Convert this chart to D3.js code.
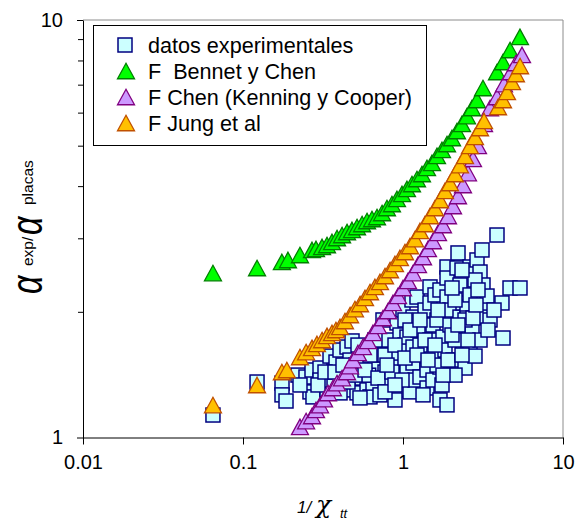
<!DOCTYPE html>
<html>
<head>
<meta charset="utf-8">
<script src="https://cdn.jsdelivr.net/npm/d3@7"></script>
<style>
  body { margin: 0; background: #fff; }
  svg text { font-family: "Liberation Sans", Arial, sans-serif; }
</style>
</head>
<body>
<svg id="chart" width="577" height="521"></svg>
<script>
// ---- data ----
const seriesNames = ["datos experimentales", "F  Bennet y Chen", "F Chen (Kenning y Cooper)", "F Jung et al"];
const xTickValues = [0.01, 0.1, 1, 10];
const xTickLabels = ["0.01", "0.1", "1", "10"];
const yTickValues = [1, 10];
const yTickLabels = ["1", "10"];
const yMinorValues = [2, 3, 4, 5, 6, 7, 8, 9];

// measured heat transfer ratio
const expX = [0.0649, 0.1224, 0.1753, 0.1753, 0.1857, 0.2207, 0.2475, 0.2622, 0.2738, 0.2699,
  0.3029, 0.335, 0.3398, 0.3652, 0.3498, 0.3813, 0.4039, 0.4467, 0.4339, 0.4664,
  0.4801, 0.5084, 0.5233, 0.4664, 0.5158, 0.5542, 0.5623, 0.5957, 0.6219, 0.6494,
  0.6683, 0.6980, 0.7183, 0.7499, 0.7720, 0.8058, 0.8293, 0.8660, 0.9173, 0.9173,
  0.9306, 0.9578, 1.000, 1.029, 1.059, 1.059, 1.106, 1.138, 1.155, 1.155,
  1.155, 1.189, 1.223, 1.241, 1.277, 1.314, 1.373, 1.413, 1.413, 1.475,
  1.475, 1.475, 1.540, 1.518, 1.540, 1.585, 1.631, 1.703, 1.703, 1.703,
  1.753, 1.778, 1.830, 1.884, 1.884, 1.884, 1.884, 1.967, 1.967, 2.054,
  2.175, 2.207, 2.271, 2.271, 2.271, 2.371, 2.371, 2.441, 2.512, 2.512,
  2.623, 2.623, 2.623, 2.700, 2.901, 3.029, 3.117, 3.029, 3.162, 3.255,
  3.162, 3.868, 4.155, 4.217, 4.665, 5.385, 3.350, 2.818, 2.114, 1.631,
  1.334, 0.891, 0.718, 0.404, 0.303, 2.114, 2.441, 3.498, 2.818, 1.277,
  1.029, 0.772, 0.610, 0.2271, 0.2943, 0.3255, 0.3758, 0.4217, 0.4531, 0.5012,
  0.5788, 0.6219, 0.6980, 0.7720, 0.8538, 0.8913, 0.9857, 1.029, 1.106, 1.223,
  1.277, 1.373, 1.433, 1.585, 1.655, 1.778, 1.911, 2.024, 2.114, 2.207,
  2.338, 2.548, 2.738, 2.859, 2.943, 2.338, 2.024, 3.398, 3.705, 0.8913,
  0.7943, 0.6683, 0.5385];
const expY = [1.132, 1.358, 1.350, 1.265, 1.223, 1.411, 1.396, 1.286, 1.251, 1.451,
  1.467, 1.300, 1.388, 1.350, 1.567, 1.516, 1.620, 1.647, 1.396, 1.533,
  1.703, 1.491, 1.665, 1.300, 1.279, 1.388, 1.533, 1.300, 1.251, 1.350,
  1.491, 1.620, 1.576, 1.912, 1.435, 1.712, 1.373, 1.516, 1.593, 1.881,
  1.300, 1.760, 2.020, 1.665, 1.475, 1.740, 1.286, 2.135, 1.943, 1.647,
  1.508, 1.373, 2.170, 1.809, 1.396, 1.602, 2.020, 1.451, 1.314, 2.294,
  2.100, 1.712, 1.860, 1.576, 1.373, 2.195, 1.912, 2.256, 1.475, 1.230,
  1.336, 1.740, 1.620, 2.561, 2.410, 2.170, 1.197, 2.020, 1.860, 1.533,
  2.547, 2.767, 1.943, 1.779, 2.319, 2.100, 1.647, 1.467, 2.054, 1.933,
  1.602, 2.561, 2.195, 1.809, 2.662, 2.491, 2.813, 1.712, 2.054, 1.943,
  2.319, 3.055, 2.100, 1.731, 2.281, 2.281, 2.182, 2.384, 1.712, 1.491,
  1.265, 1.230, 1.265, 1.279, 1.373, 1.411, 1.912, 1.912, 1.567, 1.665,
  1.912, 1.576, 1.410, 1.336, 1.336, 1.435, 1.435, 1.491, 1.358, 1.411,
  1.451, 1.576, 1.388, 1.286, 1.435, 1.665, 1.373, 1.550, 1.809, 1.576,
  1.912, 1.712, 1.533, 1.665, 2.020, 1.411, 1.533, 1.760, 2.135, 1.860,
  1.576, 1.712, 1.933, 2.077, 2.256, 2.519, 2.281, 1.809, 2.020, 1.336,
  1.491, 1.712, 1.244];

// Bennet y Chen correlation
const bennetX = [0.0649, 0.1224, 0.175, 0.191, 0.227, 0.270, 0.286, 0.312, 0.335, 0.360,
  0.387, 0.416, 0.447, 0.480, 0.516, 0.555, 0.596, 0.640, 0.688, 0.740,
  0.794, 0.853, 0.917, 0.986, 1.059, 1.138, 1.223, 1.314, 1.413, 1.518,
  1.631, 1.753, 1.884, 2.025, 2.175, 2.337, 2.512, 2.698, 2.900, 3.162,
  3.869, 4.217, 4.667, 5.383];
const bennetY = [2.477, 2.547, 2.633, 2.662, 2.736, 2.813, 2.829, 2.860, 2.891, 2.940,
  3.005, 3.055, 3.106, 3.141, 3.193, 3.246, 3.300, 3.337, 3.374, 3.449,
  3.546, 3.625, 3.727, 3.831, 3.938, 4.048, 4.161, 4.277, 4.422, 4.546,
  4.725, 4.883, 5.047, 5.217, 5.422, 5.636, 5.888, 6.155, 6.433, 6.873,
  7.506, 7.933, 8.475, 9.11];

// Chen with Kenning y Cooper
const chenX = [0.227, 0.248, 0.270, 0.286, 0.303, 0.321, 0.340, 0.365, 0.387, 0.416,
  0.447, 0.467, 0.487, 0.523, 0.562, 0.604, 0.649, 0.698, 0.750, 0.806,
  0.866, 0.931, 1.000, 1.075, 1.155, 1.241, 1.334, 1.433, 1.540, 1.655,
  1.778, 1.911, 2.054, 2.207, 2.371, 2.548, 2.738, 2.942, 3.209, 3.499,
  3.869, 4.276, 4.732, 5.080, 5.543];
const chenY = [1.060, 1.095, 1.126, 1.164, 1.196, 1.236, 1.278, 1.314, 1.350, 1.388,
  1.435, 1.483, 1.533, 1.594, 1.648, 1.703, 1.780, 1.850, 1.933, 2.009,
  2.100, 2.183, 2.281, 2.371, 2.477, 2.590, 2.706, 2.829, 2.956, 3.090,
  3.228, 3.393, 3.585, 3.788, 4.025, 4.300, 4.647, 4.992, 5.636, 6.155,
  6.540, 7.025, 7.506, 7.888, 8.248];

// Jung et al correlation
const jungX = [0.0649, 0.1224, 0.175, 0.188, 0.227, 0.248, 0.270, 0.290, 0.312, 0.335,
  0.360, 0.381, 0.404, 0.434, 0.467, 0.501, 0.539, 0.579, 0.622, 0.668,
  0.718, 0.772, 0.830, 0.891, 0.957, 1.029, 1.106, 1.189, 1.277, 1.372,
  1.474, 1.585, 1.703, 1.830, 1.966, 2.113, 2.270, 2.440, 2.620, 2.818,
  3.030, 3.210, 3.926, 4.217, 4.467, 4.800, 5.080, 5.390];
const jungY = [1.196, 1.336, 1.435, 1.451, 1.559, 1.602, 1.639, 1.675, 1.712, 1.751,
  1.780, 1.809, 1.840, 1.901, 1.965, 2.031, 2.088, 2.159, 2.231, 2.294,
  2.358, 2.437, 2.519, 2.604, 2.692, 2.782, 2.875, 2.988, 3.124, 3.246,
  3.393, 3.546, 3.706, 3.895, 4.070, 4.277, 4.494, 4.725, 4.992, 5.246,
  5.512, 5.730, 6.189, 6.433, 6.724, 7.105, 7.424, 7.760];

// ---- layout ----
const svg = d3.select("#chart");
const plot = { left: 83, top: 20, right: 563, bottom: 437.5 };

const x = d3.scaleLog().domain([0.01, 10]).range([plot.left, plot.right]);
const y = d3.scaleLog().domain([1, 10]).range([plot.bottom, plot.top]);

// plot frame (top and right edges)
svg.append("path")
  .attr("d", `M${plot.left},${plot.top}H${plot.right}V${plot.bottom}`)
  .attr("fill", "none").attr("stroke", "#8c8c8c").attr("stroke-width", 1);

// axes
const xAxis = svg.append("g")
  .attr("transform", `translate(0,${plot.bottom})`)
  .call(d3.axisBottom(x).tickValues(xTickValues)
    .tickFormat((d, i) => xTickLabels[i]).tickSize(7).tickSizeOuter(0).tickPadding(10));
const yAxis = svg.append("g")
  .attr("transform", `translate(${plot.left},0)`)
  .call(d3.axisLeft(y).tickValues(yTickValues)
    .tickFormat((d, i) => yTickLabels[i]).tickSize(6).tickSizeOuter(0).tickPadding(14));
const yMinor = svg.append("g")
  .attr("transform", `translate(${plot.left},0)`)
  .call(d3.axisLeft(y).tickValues(yMinorValues).tickFormat("").tickSize(5).tickSizeOuter(0));
yMinor.select(".domain").remove();

[xAxis, yAxis, yMinor].forEach(g => {
  g.selectAll("path, line").attr("stroke", "#000").attr("stroke-width", 1);
  g.selectAll("text").attr("font-size", 20).attr("fill", "#000")
    .attr("font-family", "Liberation Sans, Arial, sans-serif");
});

// ---- markers ----
const triW = 17, triH = 15.5, sq = 14;
const triPath = `M0,${-triH / 2}L${triW / 2},${triH / 2}L${-triW / 2},${triH / 2}Z`;

const styles = [
  { fill: "#ccffff", stroke: "#000080" },
  { fill: "#00ff00", stroke: "#008000" },
  { fill: "#cc99ff", stroke: "#800080" },
  { fill: "#ffc000", stroke: "#c05000" }
];

function drawSquares(xs, ys, st) {
  svg.append("g").selectAll("rect").data(xs.map((v, i) => [v, ys[i]])).join("rect")
    .attr("x", d => x(d[0]) - sq / 2).attr("y", d => y(d[1]) - sq / 2)
    .attr("width", sq).attr("height", sq)
    .attr("fill", st.fill).attr("stroke", st.stroke).attr("stroke-width", 1.5);
}
function drawTriangles(xs, ys, st) {
  svg.append("g").selectAll("path").data(xs.map((v, i) => [v, ys[i]])).join("path")
    .attr("d", triPath)
    .attr("transform", d => `translate(${x(d[0])},${y(d[1])})`)
    .attr("fill", st.fill).attr("stroke", st.stroke).attr("stroke-width", 1.3)
    .attr("stroke-linejoin", "miter");
}

drawSquares(expX, expY, styles[0]);
drawTriangles(bennetX, bennetY, styles[1]);
drawTriangles(chenX, chenY, styles[2]);
drawTriangles(jungX, jungY, styles[3]);

// ---- legend ----
const legend = svg.append("g");
legend.append("rect").attr("x", 93.5).attr("y", 25.5).attr("width", 333).attr("height", 120)
  .attr("fill", "#fff").attr("stroke", "#000").attr("stroke-width", 1);
seriesNames.forEach((name, i) => {
  const cy = 45 + i * 26;
  if (i === 0) {
    legend.append("rect").attr("x", 125 - sq / 2).attr("y", cy - sq / 2)
      .attr("width", sq).attr("height", sq)
      .attr("fill", styles[0].fill).attr("stroke", styles[0].stroke).attr("stroke-width", 1.5);
  } else {
    legend.append("path").attr("d", triPath).attr("transform", `translate(126,${cy})`)
      .attr("fill", styles[i].fill).attr("stroke", styles[i].stroke).attr("stroke-width", 1.3);
  }
  legend.append("text").attr("x", 148).attr("y", cy + 8)
    .attr("font-size", 21.6).attr("fill", "#000").style("white-space", "pre")
    .text(name);
});

// ---- axis titles ----
const xt = svg.append("text").attr("y", 513).attr("fill", "#000");
xt.append("tspan").attr("x", 297).attr("font-size", 17).attr("font-style", "italic").text("1/");
xt.append("tspan").attr("x", 316).attr("font-size", 25).attr("font-style", "italic")
  .attr("font-family", "DejaVu Serif, serif").text("χ");
xt.append("tspan").attr("x", 340).attr("dy", 5).attr("font-size", 13).attr("font-style", "italic").text("tt");

// rotated y title: local x runs upward on screen, local y runs rightward
const yt = svg.append("g").attr("transform", "rotate(-90)");
function alpha(startY, baseX) {
  yt.append("text")
    .attr("transform", `translate(${-startY},${baseX}) scale(0.9,1.25)`)
    .attr("font-family", "DejaVu Serif, serif").attr("font-style", "italic")
    .attr("font-size", 36).attr("fill", "#000").text("α");
}
alpha(294, 42);
yt.append("text").attr("x", -266).attr("y", 33).attr("font-size", 15.5).attr("fill", "#000").text("exp/");
alpha(235, 42);
yt.append("text").attr("x", -205).attr("y", 33).attr("font-size", 15.5).attr("fill", "#000").text("placas");
</script>
</body>
</html>
